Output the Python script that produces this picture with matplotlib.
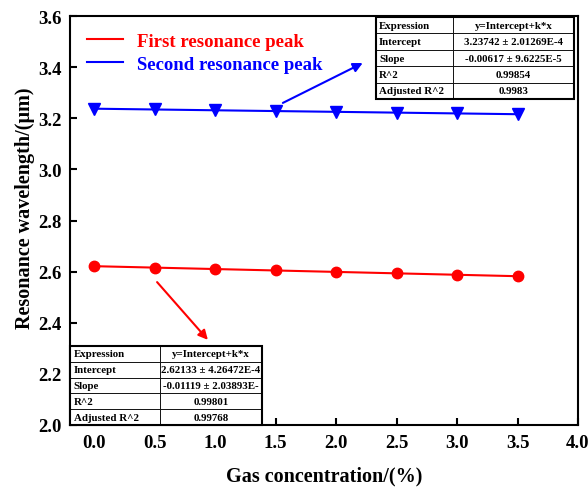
import matplotlib
matplotlib.use("Agg")
import matplotlib.pyplot as plt
import numpy as np

plt.rcParams['font.family'] = ['Liberation Serif', 'DejaVu Serif']
plt.rcParams['font.weight'] = 'bold'

conc = [0.0, 0.5, 1.0, 1.5, 2.0, 2.5, 3.0, 3.5]
first_peak = [2.6213, 2.6157, 2.6101, 2.6045, 2.5989, 2.5933, 2.5877, 2.5821]
second_peak = [3.2374, 3.2343, 3.2312, 3.2281, 3.2251, 3.2220, 3.2189, 3.2158]

fit_first = [["Expression", "y=Intercept+k*x"],
             ["Intercept", "2.62133 \u00b1 4.26472E-4"],
             ["Slope", "-0.01119 \u00b1 2.03893E-"],
             ["R^2", "0.99801"],
             ["Adjusted R^2", "0.99768"]]
fit_second = [["Expression", "y=Intercept+k*x"],
              ["Intercept", "3.23742 \u00b1 2.01269E-4"],
              ["Slope", "-0.00617 \u00b1 9.6225E-5"],
              ["R^2", "0.99854"],
              ["Adjusted R^2", "0.9983"]]

W, H = 588, 489
fig = plt.figure(figsize=(W / 100, H / 100), dpi=100)
ax = fig.add_axes([70 / W, 1 - 426 / H, 508 / W, 409 / H])

ax.plot(conc, first_peak, color='red', lw=1.5, marker='o', ms=7.5,
        label='First resonance peak', zorder=3)
ax.plot(conc, second_peak, color='blue', lw=1.5, marker='v', ms=8,
        label='Second resonance peak', zorder=3)

ax.set_xlim(-0.2, 4.0)
ax.set_ylim(2.0, 3.6)
ax.set_xticks(np.arange(0, 4.01, 0.5))
ax.set_yticks(np.arange(2.0, 3.61, 0.2))
ax.xaxis.set_major_formatter(matplotlib.ticker.FormatStrFormatter('%.1f'))
ax.yaxis.set_major_formatter(matplotlib.ticker.FormatStrFormatter('%.1f'))
ax.tick_params(direction='in', length=5, width=1.5, labelsize=13.5, pad=6)
ax.tick_params(axis='x', pad=6.5)
for s in ax.spines.values():
    s.set_linewidth(1.5)

ax.set_xlabel('Gas concentration/(%)', fontsize=14.5, fontweight='bold', labelpad=10.5)
ax.set_ylabel('Resonance wavelength/(\u03bcm)', fontsize=14.5, fontweight='bold')
ax.yaxis.set_label_coords(-0.068, 0.533)

leg = ax.legend(loc='upper left', bbox_to_anchor=(0.0, 1.0), frameon=False,
                fontsize=13.5, handlelength=1.9, handletextpad=0.75,
                labelspacing=0.3, markerscale=0)
for txt, c in zip(leg.get_texts(), ['red', 'blue']):
    txt.set_color(c)
    txt.set_fontweight('bold')
for h in leg.legend_handles:
    h.set_marker('')


def fit_table(rows, x0, y0, x1, y1, split):
    w = (x1 - x0) / 508
    h = (y1 - y0) / 409
    bx = (x0 - 70) / 508
    by = (426 - y1) / 409
    c0 = (split - x0) / (x1 - x0)
    tb = ax.table(cellText=rows, colWidths=[c0, 1 - c0],
                  bbox=[bx, by, w, h], zorder=5)
    tb.auto_set_font_size(False)
    for (r, c), cell in tb.get_celld().items():
        cell.set_linewidth(0.6)
        cell.set_edgecolor('black')
        cell.set_facecolor('white')
        t = cell.get_text()
        t.set_fontsize(7.8)
        t.set_fontweight('bold')
        if c == 0:
            t.set_horizontalalignment('left')
            cell.PAD = 0.04
        else:
            t.set_horizontalalignment('center')
    # heavier outer frame
    ax.add_patch(plt.Rectangle((bx, by), w, h, transform=ax.transAxes,
                               fill=False, lw=1.5, ec='black', zorder=6,
                               clip_on=False))
    return tb


fit_table(fit_first, 70, 347, 262, 426, 160)
fit_table(fit_second, 376, 18, 574, 100, 453)

ax.annotate('', xy=(0.94, 2.333), xytext=(0.52, 2.559),
            arrowprops=dict(arrowstyle='-|>', color='red', lw=1.5,
                            mutation_scale=14, shrinkA=0, shrinkB=0))
ax.annotate('', xy=(2.22, 3.416), xytext=(1.56, 3.26),
            arrowprops=dict(arrowstyle='-|>', color='blue', lw=1.5,
                            mutation_scale=14, shrinkA=0, shrinkB=0))

fig.savefig('out.png', dpi=100)
